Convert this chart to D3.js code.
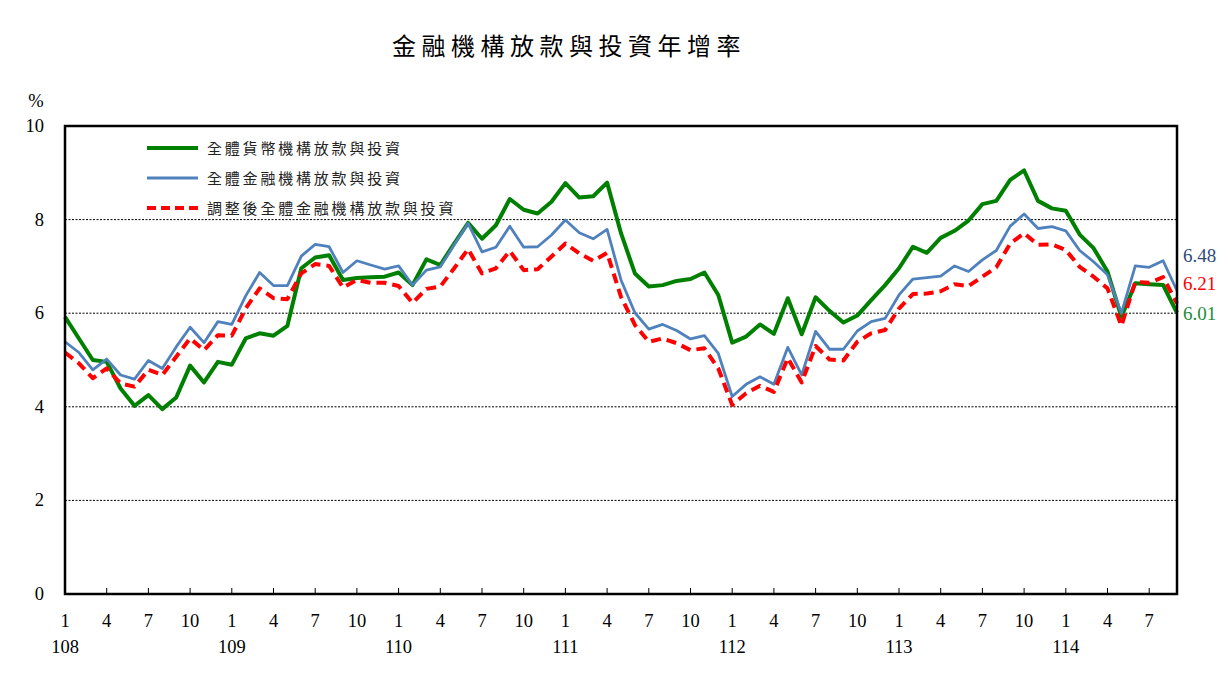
<!DOCTYPE html>
<html><head><meta charset="utf-8">
<script src="https://cdn.jsdelivr.net/npm/d3@7"></script>
<style>body{margin:0;background:#fff}svg{display:block}</style>
</head><body>
<svg id="c" width="1230" height="683"></svg>
<script>
const years = ["108","109","110","111","112","113","114"];
const monthTicks = ["1","4","7","10"];
const seriesNames = ["全體貨幣機構放款與投資","全體金融機構放款與投資","調整後全體金融機構放款與投資"];
const yTicks = [0,2,4,6,8,10];
const green = [5.92,5.46,5.00,4.96,4.39,4.02,4.25,3.95,4.20,4.88,4.52,4.96,
  4.90,5.46,5.57,5.52,5.73,6.96,7.19,7.24,6.71,6.75,6.77,6.78,
  6.87,6.60,7.15,7.03,7.49,7.93,7.59,7.88,8.44,8.21,8.13,8.38,
  8.78,8.47,8.50,8.79,7.71,6.85,6.57,6.60,6.69,6.73,6.87,6.39,
  5.37,5.50,5.76,5.56,6.32,5.55,6.34,6.05,5.80,5.95,6.28,6.60,
  6.96,7.42,7.29,7.61,7.76,7.98,8.33,8.40,8.85,9.05,8.40,8.24,
  8.19,7.68,7.39,6.89,5.92,6.64,6.62,6.60,6.01];
const blue = [5.39,5.16,4.79,5.02,4.68,4.59,4.99,4.82,5.28,5.70,5.37,5.82,
  5.76,6.37,6.87,6.59,6.59,7.22,7.47,7.42,6.87,7.12,7.03,6.94,
  7.01,6.60,6.92,6.99,7.46,7.92,7.31,7.41,7.86,7.41,7.42,7.67,
  7.99,7.72,7.59,7.79,6.71,6.01,5.66,5.76,5.63,5.45,5.52,5.14,
  4.22,4.48,4.64,4.48,5.27,4.68,5.61,5.23,5.23,5.62,5.82,5.89,
  6.39,6.73,6.76,6.79,7.01,6.89,7.14,7.34,7.86,8.12,7.81,7.85,
  7.76,7.34,7.10,6.82,6.00,7.01,6.98,7.12,6.48];
const red = [5.16,4.93,4.61,4.82,4.50,4.43,4.79,4.68,5.07,5.46,5.21,5.53,
  5.52,6.10,6.53,6.32,6.30,6.85,7.05,7.01,6.55,6.71,6.65,6.65,
  6.58,6.22,6.52,6.57,6.96,7.37,6.85,6.96,7.33,6.92,6.94,7.21,
  7.49,7.28,7.12,7.29,6.35,5.75,5.39,5.46,5.36,5.21,5.25,4.82,
  4.04,4.29,4.45,4.32,5.04,4.52,5.30,5.01,4.99,5.39,5.57,5.64,
  6.10,6.41,6.42,6.47,6.62,6.58,6.78,6.98,7.49,7.71,7.46,7.47,
  7.35,6.99,6.78,6.53,5.73,6.67,6.65,6.77,6.21];
const colors = ["#008000","#4F81BD","#FF0000"];

const svg = d3.select("#c");
const L=65, R=1177, T=126, B=594;
const n = green.length;
const x = d3.scaleLinear().domain([0, n-1]).range([L, R]);
const y = d3.scaleLinear().domain([0, 10]).range([B, T]);
const serif = "'Liberation Serif','Times New Roman',serif";
const cjk = "'Noto Sans CJK TC','Noto Sans CJK SC',sans-serif";

// title
svg.append("text").attr("x", 569).attr("y", 55).attr("text-anchor","middle")
  .attr("font-family", cjk).attr("font-size", 24).attr("letter-spacing", 5.5)
  .attr("fill","#000").text("金融機構放款與投資年增率");

// gridlines
svg.append("g").selectAll("line").data(yTicks.filter(d=>d>0 && d<10)).join("line")
  .attr("x1", L).attr("x2", R).attr("y1", d=>y(d)).attr("y2", d=>y(d))
  .attr("stroke","#000").attr("stroke-width",1).attr("stroke-dasharray","2,1.5");

// y labels
svg.append("g").selectAll("text").data(yTicks).join("text")
  .attr("x", 44).attr("y", d=>y(d)+6).attr("text-anchor","end")
  .attr("font-family", serif).attr("font-size", 18.5).text(d=>d);
svg.append("text").attr("x", 36).attr("y", 107).attr("text-anchor","middle")
  .attr("font-family", serif).attr("font-size", 18.5).text("%");

// x ticks every 3 months
const tickIdx = d3.range(0, n, 3);
svg.append("g").selectAll("line").data(tickIdx).join("line")
  .attr("x1", d=>x(d)).attr("x2", d=>x(d)).attr("y1", B).attr("y2", B-6)
  .attr("stroke","#000").attr("stroke-width",1);
svg.append("g").selectAll("text").data(tickIdx).join("text")
  .attr("x", d=>x(d)).attr("y", 627).attr("text-anchor","middle")
  .attr("font-family", serif).attr("font-size", 18.5)
  .text(d=>monthTicks[(d%12)/3]);
svg.append("g").selectAll("text").data(years).join("text")
  .attr("x", (d,i)=>x(i*12)).attr("y", 653).attr("text-anchor","middle")
  .attr("font-family", serif).attr("font-size", 18.5).text(d=>d);

// lines
const line = d3.line().x((d,i)=>x(i)).y(d=>y(d));
const data = [green, blue, red];
const widths = [4, 2.8, 4];
[0,1,2].forEach(k=>{
  const p = svg.append("path").datum(data[k]).attr("d", line)
    .attr("fill","none").attr("stroke", colors[k]).attr("stroke-width", widths[k])
    .attr("stroke-linejoin","round");
  if (k===2) p.attr("stroke-dasharray","10,6");
});

// frame
svg.append("rect").attr("x", L).attr("y", T).attr("width", R-L).attr("height", B-T)
  .attr("fill","none").attr("stroke","#000").attr("stroke-width",2.5);

// legend
const lg = svg.append("g");
seriesNames.forEach((s,k)=>{
  const yy = 148 + k*30;
  lg.append("line").attr("x1",147).attr("x2",198).attr("y1",yy).attr("y2",yy)
    .attr("stroke", colors[k]).attr("stroke-width", widths[k])
    .attr("stroke-dasharray", k===2 ? "9,5" : null);
  lg.append("text").attr("x",207).attr("y",yy+6).attr("font-family",cjk)
    .attr("font-size",15).attr("letter-spacing",2.8).attr("fill","#222").text(s);
});

// end labels
[[blue[n-1],"#2E4A7A",262],[red[n-1],"#FF0000",290],[green[n-1],"#1E8B3C",320]].forEach(e=>{
  svg.append("text").attr("x",1183).attr("y",e[2]).attr("font-family",serif)
    .attr("font-size",19).attr("fill",e[1]).text(e[0].toFixed(2));
});
</script>
</body></html>
